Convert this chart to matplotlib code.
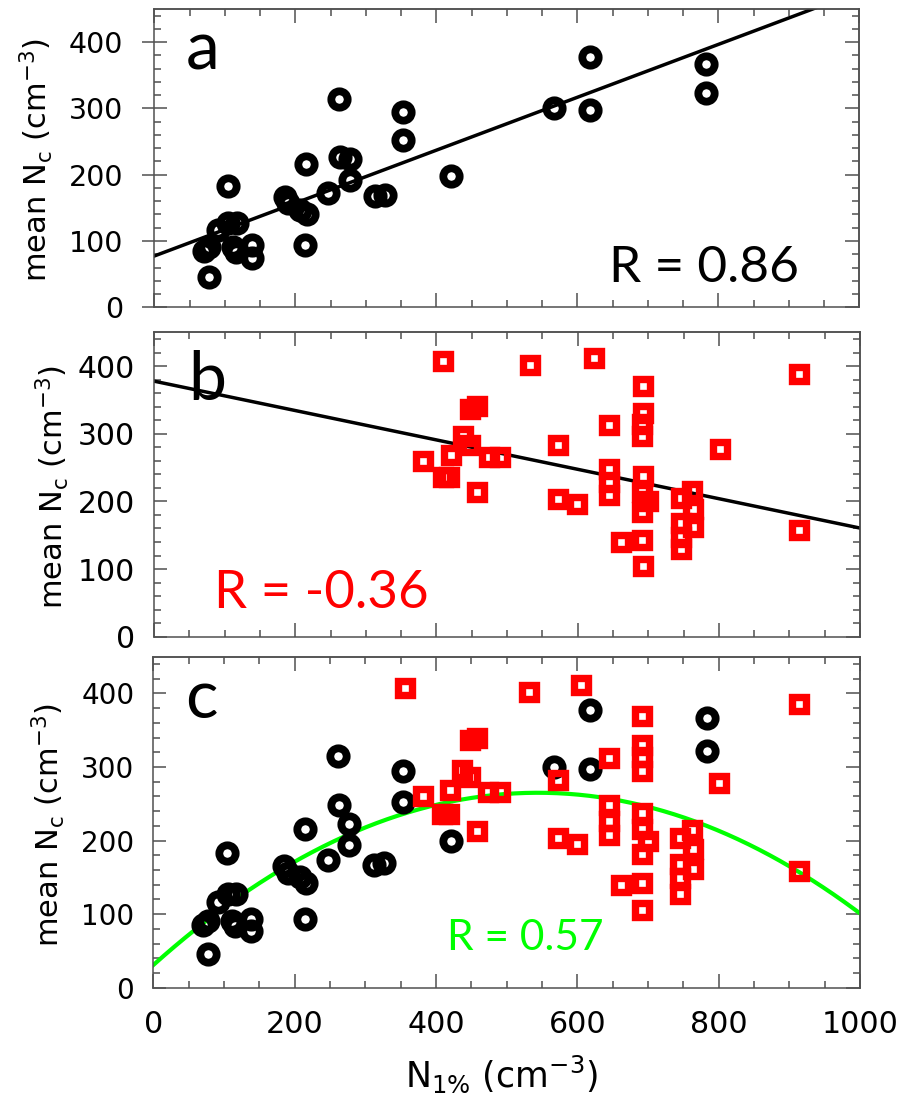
import matplotlib
matplotlib.use('Agg')
import matplotlib.pyplot as plt
import numpy as np
from matplotlib.ticker import MultipleLocator, NullFormatter

plt.rcParams['font.family'] = ['DejaVu Sans']
plt.rcParams['mathtext.fontset'] = 'dejavusans'

# ---------------- data ----------------
# panel a: black circles
a_circ_x = [70, 77, 78, 91, 104, 105, 117, 112, 116, 138, 138, 185, 190, 207, 216, 214, 215,
            247, 262, 263, 277, 277, 313, 327, 353, 353, 421, 567, 618, 618, 783, 783]
a_circ_y = [85, 91, 45, 117, 183, 127, 127, 91, 84, 94, 75, 167, 157, 147, 140, 94, 216,
            173, 314, 226, 223, 192, 168, 169, 294, 252, 198, 300, 377, 298, 367, 323]

# panel b: red squares
b_sq_x = [409, 532, 623, 914, 692, 692, 691, 691, 645, 448, 458, 572, 801, 437, 448, 420, 381,
          474, 490, 409, 418, 458, 645, 645, 645, 692, 691, 700, 691, 572, 599, 662, 691, 692,
          746, 762, 764, 764, 746, 746, 746, 914]
b_sq_y = [407, 402, 412, 388, 370, 331, 315, 297, 313, 337, 341, 284, 278, 296, 284, 269, 260,
          265, 265, 236, 236, 214, 248, 228, 209, 238, 214, 200, 184, 204, 196, 140, 143, 104,
          205, 216, 189, 162, 168, 147, 129, 158]

# panel c: both sets
c_circ_x = [70, 77, 78, 91, 104, 105, 117, 112, 116, 138, 138, 185, 190, 207, 216, 214, 215,
            247, 262, 263, 277, 277, 313, 327, 353, 353, 421, 567, 618, 618, 783, 783]
c_circ_y = [85, 91, 46, 117, 183, 127, 127, 91, 84, 94, 77, 166, 156, 150, 142, 94, 216,
            174, 315, 248, 223, 194, 167, 169, 294, 252, 199, 300, 377, 298, 367, 322]
c_sq_x = [356, 532, 605, 914, 692, 692, 691, 691, 645, 448, 458, 572, 801, 437, 448, 420, 381,
          474, 490, 409, 418, 458, 645, 645, 645, 692, 691, 700, 691, 572, 599, 662, 691, 692,
          746, 762, 764, 764, 746, 746, 746, 914]
c_sq_y = [407, 402, 411, 386, 370, 330, 313, 294, 312, 337, 340, 283, 278, 296, 287, 269, 260,
          266, 266, 236, 236, 213, 248, 226, 208, 238, 216, 200, 182, 203, 196, 140, 143, 106,
          204, 214, 188, 161, 168, 149, 128, 158]

# fit lines (coefficients, lowest order first)
fit_a = [77.4, 0.399]
fit_b = [377.8, -0.2172]
fit_c = [30.8, 0.8604, -7.902e-4]

r_texts = ['R = 0.86', 'R = -0.36', 'R = 0.57']
panel_letters = ['a', 'b', 'c']
x_ticks = [0, 200, 400, 600, 800, 1000]
y_ticks = [0, 100, 200, 300, 400]

# ---------------- figure ----------------
W, H = 902, 1101
fig = plt.figure(figsize=(W / 100, H / 100), dpi=100)

def px_axes(l, t, r, b):
    return fig.add_axes([l / W, 1 - b / H, (r - l) / W, (b - t) / H])

ax_a = px_axes(154.3, 9, 859.4, 307.3)
ax_b = px_axes(154, 332.3, 860, 636.7)
ax_c = px_axes(153.3, 656.7, 860, 987.7)

SPC = '#505050'

def style(ax, ylab_size, left_dir, show_x):
    ax.set_xlim(0, 1000)
    ax.set_ylim(0, 450)
    for s in ax.spines.values():
        s.set_color(SPC)
        s.set_linewidth(1.1)
    ax.xaxis.set_major_locator(MultipleLocator(200))
    ax.xaxis.set_minor_locator(MultipleLocator(50))
    ax.yaxis.set_major_locator(MultipleLocator(100))
    ax.yaxis.set_minor_locator(MultipleLocator(20))
    ax.set_yticks(y_ticks)
    if left_dir == 'inout':
        ax.tick_params(axis='y', which='major', direction='inout', length=18, width=1.1,
                       color=SPC, labelsize=ylab_size, pad=13.4, right=False)
    else:
        ax.tick_params(axis='y', which='major', direction='in', length=9.5, width=1.1,
                       color=SPC, labelsize=ylab_size, pad=13.7, right=False)
    ax.tick_params(axis='y', which='minor', direction='in', length=5, width=1.1,
                   color=SPC, right=False)
    ax.tick_params(axis='x', which='major', direction='in', length=10, width=1.1,
                   color=SPC, labelsize=21.7, pad=16, top=False)
    ax.tick_params(axis='x', which='minor', direction='in', length=5, width=1.1,
                   color=SPC, top=False)
    if show_x:
        ax.set_xticks(x_ticks)
    else:
        ax.xaxis.set_major_formatter(NullFormatter())
    # right & top ticks (inward only)
    sy = ax.secondary_yaxis('right')
    sy.yaxis.set_major_locator(MultipleLocator(100))
    sy.yaxis.set_minor_locator(MultipleLocator(20))
    sy.tick_params(which='major', direction='in', length=10, width=1.1, color=SPC, labelright=False)
    sy.tick_params(which='minor', direction='in', length=5, width=1.1, color=SPC)
    sy.spines['right'].set_color(SPC)
    sy.spines['right'].set_linewidth(1.1)
    sx = ax.secondary_xaxis('top')
    sx.xaxis.set_major_locator(MultipleLocator(200))
    sx.xaxis.set_minor_locator(MultipleLocator(50))
    sx.tick_params(which='major', direction='in', length=10, width=1.1, color=SPC, labeltop=False)
    sx.tick_params(which='minor', direction='in', length=5, width=1.1, color=SPC)
    sx.spines['top'].set_color(SPC)
    sx.spines['top'].set_linewidth(1.1)

style(ax_a, 20.5, 'inout', False)
style(ax_b, 21.5, 'in', False)
style(ax_c, 20, 'in', True)

xx = np.linspace(0, 1000, 400)

circ_kw = dict(linestyle='none', marker='o', markersize=11.8, markerfacecolor='none',
               markeredgecolor='black', markeredgewidth=5.6, zorder=3)
sq_kw = dict(linestyle='none', marker='s', markersize=10.4, markerfacecolor='none',
             markeredgecolor='#ff0000', markeredgewidth=5.3, zorder=4)

# panel a
ax_a.plot(xx, np.polynomial.polynomial.polyval(xx, fit_a), color='black', lw=2.5, zorder=2)
ax_a.plot(a_circ_x, a_circ_y, **circ_kw)

# panel b
ax_b.plot(xx, np.polynomial.polynomial.polyval(xx, fit_b), color='black', lw=2.5, zorder=2)
ax_b.plot(b_sq_x, b_sq_y, **sq_kw)

# panel c
ax_c.plot(xx, np.polynomial.polynomial.polyval(xx, fit_c), color='#00ff00', lw=3.0, zorder=2)
ax_c.plot(c_circ_x, c_circ_y, **circ_kw)
ax_c.plot(c_sq_x, c_sq_y, **sq_kw)

def ftext(x, y, s, **kw):
    fig.text(x / W, 1 - y / H, s, **kw)

# panel letters
LF = ['Lato', 'DejaVu Sans']
ftext(186, 69, panel_letters[0], fontsize=49, family=LF, va='baseline', ha='left')
ftext(188, 400, panel_letters[1], fontsize=49, family=LF, va='baseline', ha='left')
ftext(185, 718, panel_letters[2], fontsize=49, family=LF, va='baseline', ha='left')

# R texts
ftext(609, 282, r_texts[0], fontsize=37, family=LF, va='baseline', ha='left', color='black')
ftext(214, 607.7, r_texts[1], fontsize=38, family=LF, va='baseline', ha='left', color='#ff0000')
ftext(447, 950, r_texts[2], fontsize=30.5, family=LF, va='baseline', ha='left', color='#00ff00')

# y labels
ylab = r'mean N$_\mathrm{c}$ (cm$^{\mathrm{-3}}$)'
ftext(47, 160, ylab, fontsize=22, rotation=90, rotation_mode='anchor', ha='center', va='baseline')
ftext(63, 487, ylab, fontsize=22, rotation=90, rotation_mode='anchor', ha='center', va='baseline')
ftext(59, 825, ylab, fontsize=22, rotation=90, rotation_mode='anchor', ha='center', va='baseline')

# x label
ftext(501.5, 1087, r'N$_{\mathrm{1\%}}$ (cm$^{\mathrm{-3}}$)', fontsize=25, ha='center', va='baseline')

fig.savefig('out.png', dpi=100)
